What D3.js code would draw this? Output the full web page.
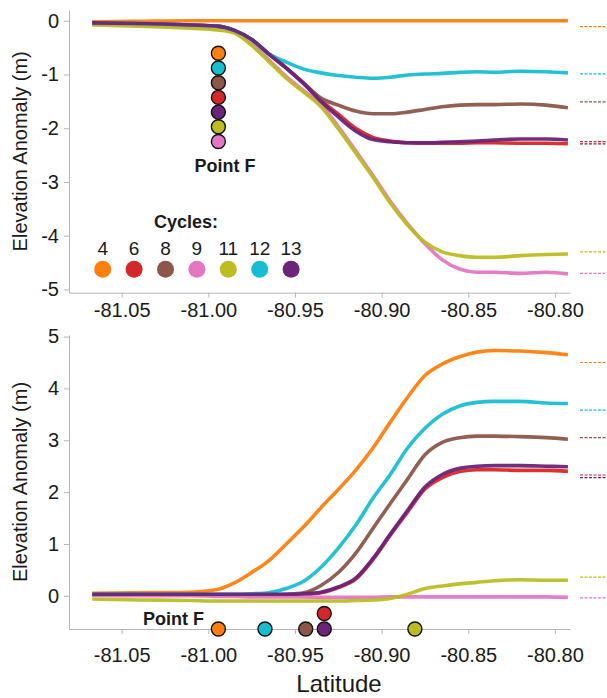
<!DOCTYPE html>
<html>
<head>
<meta charset="utf-8">
<script src="https://cdn.jsdelivr.net/npm/d3@7"></script>
<style>
  body { margin: 0; background: #fff; }
  text { font-family: "Liberation Sans", Arial, sans-serif; fill: #1a1a1a; }
</style>
</head>
<body>
<div class="chart"></div>
<script>
// Cycles and their colours (legend order)
var cycles = [4, 6, 8, 9, 11, 12, 13];
var colors = ["#ff7f0e", "#d62728", "#8c564b", "#e377c2", "#bcbd22", "#17becf", "#6a2479"];

// latitude knots
var lats = [-81.067, -81.04, -81.01, -80.995, -80.985, -80.975, -80.965, -80.955, -80.945, -80.935, -80.925,
            -80.915, -80.905, -80.895, -80.885, -80.875, -80.865, -80.855, -80.845, -80.835, -80.82, -80.805, -80.7925];

// top panel elevation anomaly (m)
var top4  = [-0.02, -0.01, 0, 0, 0, 0, 0, 0, 0, 0, 0, 0, 0, 0, 0, 0, 0, 0, 0, 0, 0, 0, 0];
var top6  = [-0.05, -0.06, -0.08, -0.1, -0.18, -0.35, -0.62, -0.88, -1.16, -1.48, -1.74, -2.0, -2.17, -2.24, -2.27, -2.28, -2.28, -2.28, -2.27, -2.27, -2.28, -2.28, -2.29];
var top8  = [-0.05, -0.06, -0.08, -0.1, -0.18, -0.35, -0.62, -0.88, -1.16, -1.44, -1.57, -1.68, -1.73, -1.73, -1.70, -1.65, -1.60, -1.57, -1.56, -1.56, -1.55, -1.57, -1.62];
var top9  = [-0.06, -0.08, -0.12, -0.15, -0.21, -0.43, -0.73, -1.04, -1.3, -1.56, -1.97, -2.42, -2.88, -3.36, -3.78, -4.15, -4.45, -4.62, -4.68, -4.68, -4.70, -4.68, -4.71];
var top11 = [-0.08, -0.1, -0.14, -0.17, -0.23, -0.46, -0.76, -1.07, -1.33, -1.6, -2.01, -2.46, -2.91, -3.39, -3.8, -4.12, -4.30, -4.37, -4.40, -4.40, -4.37, -4.35, -4.34];
var top12 = [-0.04, -0.05, -0.08, -0.1, -0.18, -0.35, -0.62, -0.77, -0.9, -0.97, -1.02, -1.05, -1.07, -1.05, -1.01, -0.99, -0.98, -0.96, -0.95, -0.96, -0.94, -0.95, -0.97];
var top13 = [-0.04, -0.05, -0.08, -0.1, -0.18, -0.35, -0.62, -0.88, -1.17, -1.50, -1.79, -2.05, -2.21, -2.25, -2.27, -2.27, -2.26, -2.25, -2.24, -2.22, -2.20, -2.20, -2.22];

// bottom panel elevation anomaly (m)
var bot4  = [0.05, 0.06, 0.07, 0.12, 0.25, 0.45, 0.68, 1.0, 1.33, 1.70, 2.05, 2.42, 2.85, 3.35, 3.83, 4.25, 4.47, 4.61, 4.70, 4.73, 4.72, 4.69, 4.65];
var bot6  = [0.02, 0.02, 0.02, 0.02, 0.02, 0.02, 0.02, 0.02, 0.03, 0.06, 0.16, 0.32, 0.7, 1.17, 1.62, 2.06, 2.28, 2.40, 2.43, 2.43, 2.42, 2.42, 2.40];
var bot8  = [0.02, 0.02, 0.02, 0.02, 0.02, 0.02, 0.02, 0.03, 0.06, 0.2, 0.45, 0.82, 1.3, 1.78, 2.25, 2.72, 2.96, 3.05, 3.08, 3.08, 3.07, 3.05, 3.02];
var bot9  = [0.01, 0.0, 0.0, -0.01, -0.01, -0.02, -0.02, -0.02, -0.02, -0.03, -0.03, -0.03, -0.03, -0.02, -0.02, -0.02, -0.02, -0.02, -0.02, -0.02, -0.02, -0.02, -0.03];
var bot11 = [-0.06, -0.08, -0.09, -0.1, -0.1, -0.1, -0.1, -0.1, -0.1, -0.1, -0.1, -0.09, -0.08, -0.05, 0.03, 0.14, 0.19, 0.23, 0.26, 0.29, 0.31, 0.30, 0.30];
var bot12 = [0.03, 0.03, 0.03, 0.03, 0.03, 0.04, 0.06, 0.14, 0.28, 0.55, 0.92, 1.36, 1.88, 2.34, 2.85, 3.23, 3.50, 3.66, 3.73, 3.75, 3.75, 3.72, 3.71];
var bot13 = [0.03, 0.03, 0.03, 0.03, 0.03, 0.03, 0.03, 0.03, 0.04, 0.07, 0.17, 0.34, 0.72, 1.19, 1.65, 2.10, 2.34, 2.46, 2.50, 2.51, 2.51, 2.50, 2.49];

// dashed reference levels at the right edge (same cycle order)
var topRef = [-0.11, -2.25, -1.51, -4.70, -4.30, -0.99, -2.29];
var botRef = [4.50, 2.33, 3.05, -0.04, 0.36, 3.58, 2.28];

// Point F latitude per cycle in the bottom panel (null = not shown)
var pointFLat = [-80.9942, -80.9331, -80.9438, null, -80.8808, -80.9673, -80.9331];
// stacking order of the Point F markers in the top panel
var topStack = [4, 12, 8, 6, 13, 11, 9];

var xTicks = [-81.05, -81.00, -80.95, -80.90, -80.85, -80.80];
var topYTicks = [0, -1, -2, -3, -4, -5];
var botYTicks = [0, 1, 2, 3, 4, 5];

var topSeries = [top4, top6, top8, top9, top11, top12, top13];
var botSeries = [bot4, bot6, bot8, bot9, bot11, bot12, bot13];

var svgWidth = 607, svgHeight = 698;
var svg = d3.select(".chart").append("svg")
  .attr("width", svgWidth)
  .attr("height", svgHeight)
  .style("display", "block");

var xScale = d3.scaleLinear().domain([-81.0804, -80.7913]).range([69, 570]);
var yTop = d3.scaleLinear().domain([-5.06, 0.2]).range([292.7, 10]);
var yBot = d3.scaleLinear().domain([-0.64, 5.03]).range([629, 335]);

function colorOf(c) { return colors[cycles.indexOf(c)]; }

function drawPanel(yScale, series, refs, yTicks, xPad) {
  var g = svg.append("g");

  // axes
  var xAxis = d3.axisBottom(xScale).tickValues(xTicks).tickFormat(d => d.toFixed(2))
    .tickSize(5).tickSizeOuter(0).tickPadding(xPad);
  var yAxis = d3.axisLeft(yScale).tickValues(yTicks).tickFormat(d => String(d))
    .tickSize(5).tickSizeOuter(0).tickPadding(5);

  var gx = g.append("g").attr("transform", `translate(0,${yScale.range()[0]})`).call(xAxis);
  var gy = g.append("g").attr("transform", `translate(${xScale.range()[0]},0)`).call(yAxis);
  [gx, gy].forEach(function(a) {
    a.select(".domain").attr("stroke", "#b5b5b5");
    a.selectAll(".tick line").attr("stroke", "#b5b5b5");
    a.selectAll(".tick text").attr("font-size", "20px").attr("fill", "#1a1a1a")
      .attr("font-family", "Liberation Sans, Arial, sans-serif");
  });

  // series
  var line = d3.line()
    .x((d, i) => xScale(lats[i]))
    .y(d => yScale(d))
    .curve(d3.curveMonotoneX);

  g.selectAll("path.series")
    .data(series)
    .enter()
    .append("path")
    .attr("class", "series")
    .attr("d", d => line(d))
    .attr("fill", "none")
    .attr("stroke", (d, i) => colors[i])
    .attr("stroke-width", 3.6)
    .attr("stroke-linejoin", "round")
    .attr("opacity", 0.95);

  // dashed reference levels
  g.selectAll("line.ref")
    .data(refs)
    .enter()
    .append("line")
    .attr("class", "ref")
    .attr("x1", 580).attr("x2", 607)
    .attr("y1", d => yScale(d)).attr("y2", d => yScale(d))
    .attr("stroke", (d, i) => colors[i])
    .attr("stroke-width", 1.2)
    .attr("stroke-dasharray", "3,1.5");

  // y title
  var mid = (yScale.range()[0] + yScale.range()[1]) / 2;
  g.append("text")
    .attr("transform", `translate(27, ${mid}) rotate(-90)`)
    .attr("text-anchor", "middle")
    .attr("font-size", "20px")
    .text("Elevation Anomaly (m)");
  return g;
}

var gTop = drawPanel(yTop, topSeries, topRef, topYTicks, 5);
var gBot = drawPanel(yBot, botSeries, botRef, botYTicks, 13.5);

// Point F markers, top panel: stacked column at the cycle-4 location
gTop.selectAll("circle.pf")
  .data(topStack)
  .enter()
  .append("circle")
  .attr("class", "pf")
  .attr("cx", xScale(pointFLat[0]))
  .attr("cy", (d, i) => 53.3 + i * 14.7)
  .attr("r", 7)
  .attr("fill", d => colorOf(d))
  .attr("stroke", "#111")
  .attr("stroke-width", 1.4);

gTop.append("text")
  .attr("x", 225).attr("y", 171.5)
  .attr("text-anchor", "middle")
  .attr("font-size", "18px")
  .attr("font-weight", "bold")
  .text("Point F");

// legend
gTop.append("text")
  .attr("x", 186).attr("y", 228)
  .attr("text-anchor", "middle")
  .attr("font-size", "18px")
  .attr("font-weight", "bold")
  .text("Cycles:");

var leg = gTop.selectAll("g.leg")
  .data(cycles)
  .enter()
  .append("g")
  .attr("class", "leg")
  .attr("transform", (d, i) => `translate(${102.7 + i * 31.4},0)`);
leg.append("text")
  .attr("y", 255)
  .attr("text-anchor", "middle")
  .attr("font-size", "19px")
  .text(d => d);
leg.append("circle")
  .attr("cy", 269.3)
  .attr("r", 8.5)
  .attr("fill", (d, i) => colors[i]);

// Point F markers, bottom panel: on the x axis (cycle 6 sits above cycle 13)
var botMarks = cycles.map((c, i) => ({ c: c, lat: pointFLat[i] }))
  .filter(d => d.lat !== null);
gBot.selectAll("circle.pf")
  .data(botMarks)
  .enter()
  .append("circle")
  .attr("class", "pf")
  .attr("cx", d => xScale(d.lat))
  .attr("cy", d => d.c === 6 ? 613.5 : 629)
  .attr("r", 7)
  .attr("fill", d => colorOf(d.c))
  .attr("stroke", "#111")
  .attr("stroke-width", 1.4);

gBot.append("text")
  .attr("x", 143).attr("y", 625)
  .attr("font-size", "18px")
  .attr("font-weight", "bold")
  .text("Point F");

// x title
svg.append("text")
  .attr("x", 339).attr("y", 692)
  .attr("text-anchor", "middle")
  .attr("font-size", "24px")
  .text("Latitude");
</script>
</body>
</html>
